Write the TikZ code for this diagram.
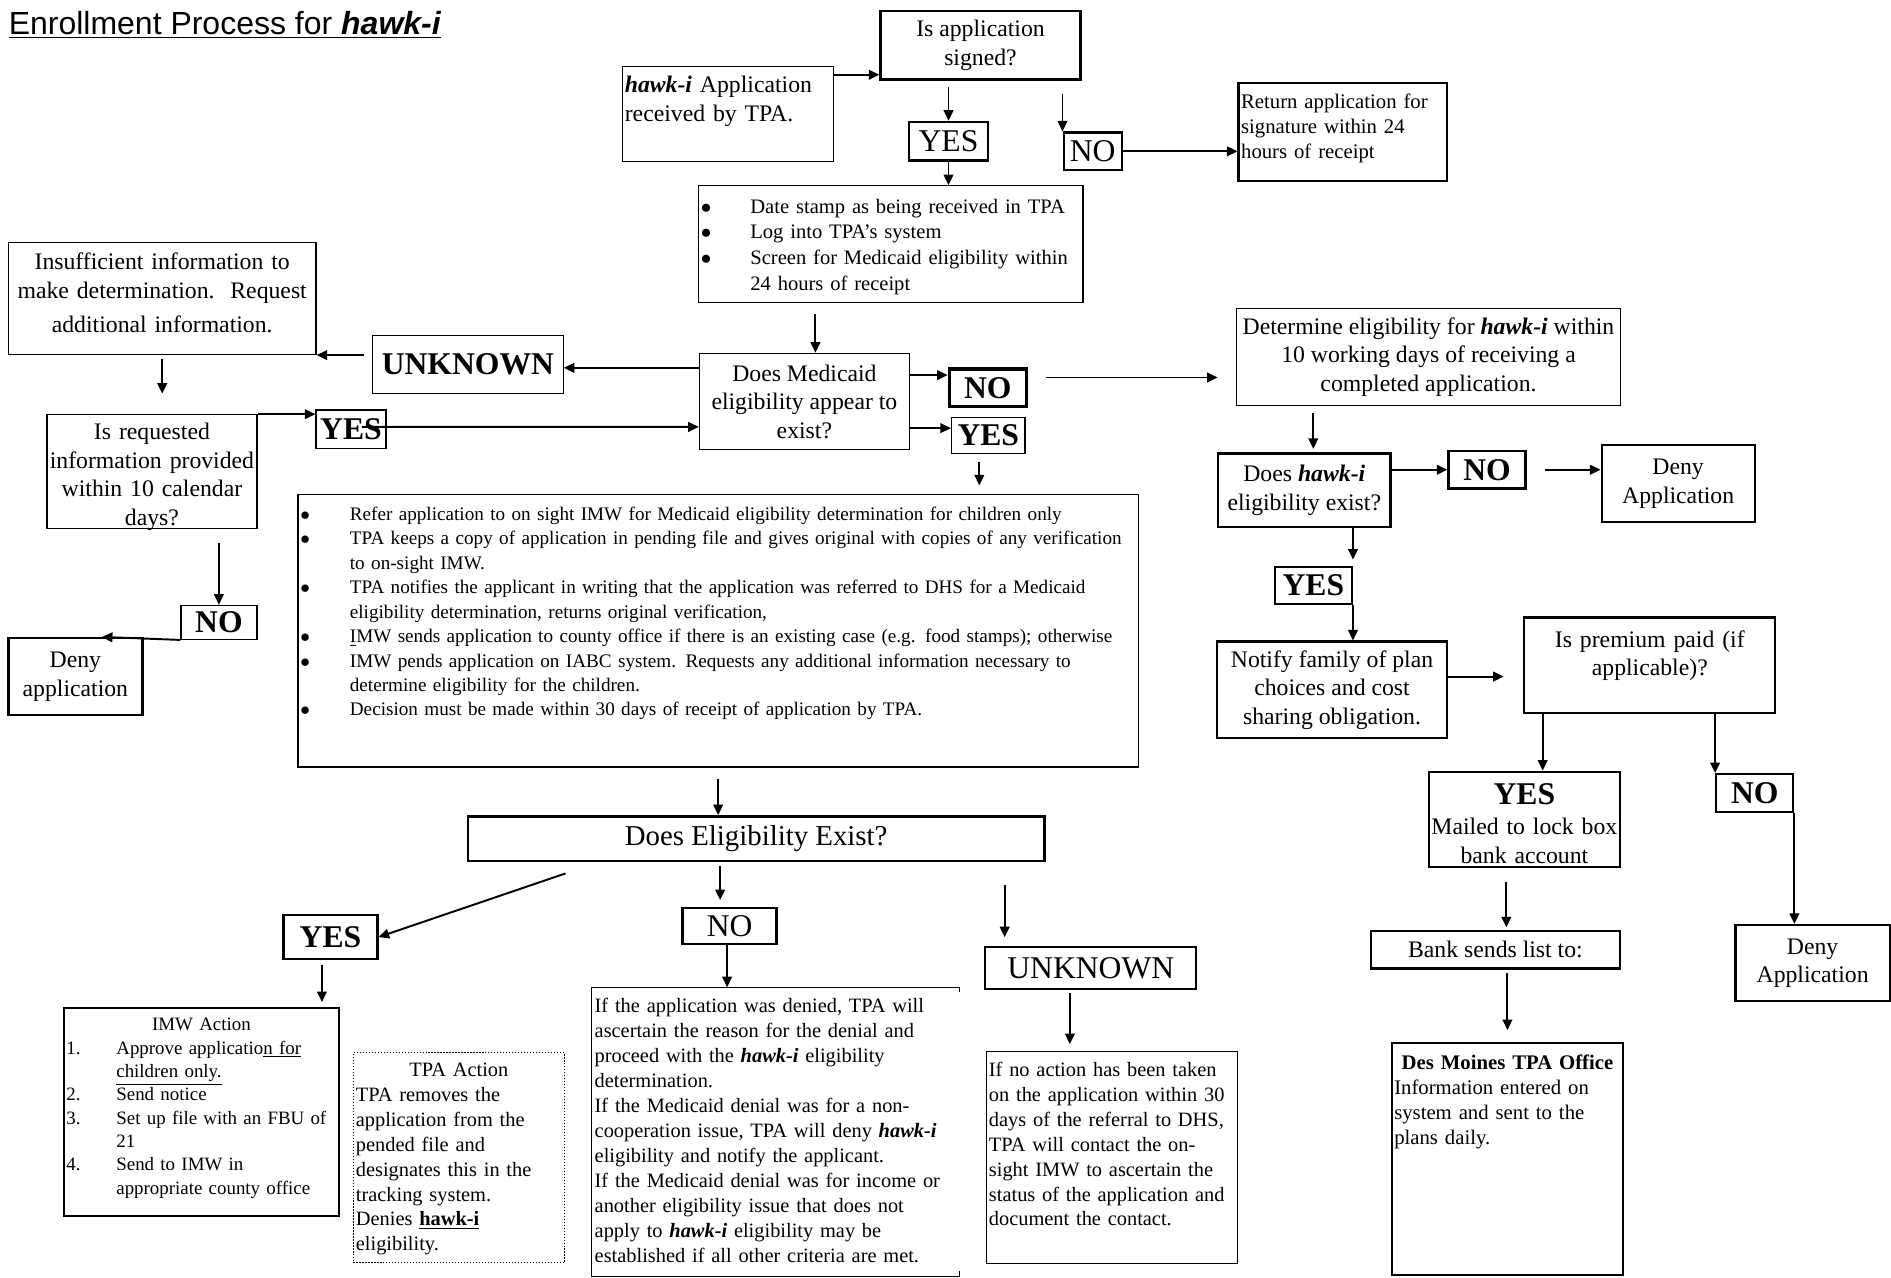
\documentclass[tikz,border=0pt]{standalone}
\usepackage{fontspec}
\setmainfont{Liberation Serif}
\newfontfamily\titlefont{Liberation Sans}
\usepackage{tikz}
\usetikzlibrary{arrows.meta}

\newcommand{\hawki}{\textbf{\textit{hawk-i}}}
\newcommand{\fmain}{\fontsize{13.5}{16.2}\selectfont}
\newcommand{\fsmall}{\fontsize{11.6}{14.2}\selectfont}
\newcommand{\flabel}{\fontsize{18}{21}\selectfont}
\newcommand{\bulletmark}{\makebox[0.99cm][l]{$\bullet$}}
\newcommand{\listind}{\hspace*{0.99cm}}
\newcommand{\stepno}[1]{\makebox[1.0cm][l]{#1}}

\begin{document}
\begin{tikzpicture}[
x=0.2412mm, y=-0.2412mm,
box/.style={draw, line width=0.7pt, inner xsep=0.08cm, inner ysep=0pt, align=center, font=\fmain},
heavy/.style={box, line width=1.3pt},
note/.style={align=left, inner xsep=0.05cm},
tight/.style={inner xsep=0.02cm},
answer/.style={heavy, font=\flabel},
arrow/.style={-{Triangle[length=6pt,width=5.5pt]}, line width=1.1pt} ]

\useasboundingbox (0,0) rectangle (1568,1059);

\node[anchor=base west, inner sep=0pt, font=\titlefont\fontsize{18.2}{21}\selectfont] (title) at (7,29) {\underline{Enrollment Process for \textbf{\textit{hawk-i}}}};

\node[heavy, minimum width=4.00cm, minimum height=1.37cm] (signed) at (813,37.5) {Is application\\signed?};

\node[box, note, text width=4.12cm, text height=0.53cm, text depth=1.37cm] (recv) at (603.5,94.5) {\hawki{} Application\\received by TPA.};

\node[answer, minimum width=1.57cm, minimum height=0.77cm] (yes1) at (786.5,117) {YES};

\node[answer, minimum width=1.16cm, minimum height=0.75cm] (no1) at (906,125.5) {NO};

\node[heavy, note, font=\fontsize{11.8}{14}\selectfont, text width=4.07cm, text height=0.51cm, text depth=1.44cm] (ret) at (1113.5,109.5) {Return application for\\signature within 24\\hours of receipt};

\node[box, note, font=\fontsize{11.7}{14.6}\selectfont, text width=7.59cm, text height=0.55cm, text depth=1.79cm] (screen) at (738.5,202.5) {\bulletmark Date stamp as being received in TPA\\\bulletmark Log into TPA's system\\\bulletmark Screen for Medicaid eligibility within\\\listind 24 hours of receipt};

\node[box, minimum width=4.20cm, minimum height=1.93cm] (medi) at (667,333) {Does Medicaid\\eligibility appear to\\exist?};

\node[box, font=\flabel\bfseries, minimum width=3.81cm, minimum height=1.16cm] (unk1) at (388,302) {UNKNOWN};

\node[box, tight, text width=6.11cm, text height=0.55cm, text depth=1.69cm] (insuf) at (134.5,247.5) {Insufficient information to\\make determination.\ \ Request\\[1.2mm]additional information.};

\node[box, tight, text width=4.16cm, text height=0.50cm, text depth=1.77cm] (req) at (126,391) {Is requested\\information provided\\within 10 calendar\\days?};

\node[box, font=\flabel\bfseries, minimum width=1.40cm, minimum height=0.77cm] (yes2) at (291,356) {YES};

\node[box, font=\flabel\bfseries, minimum width=1.52cm, minimum height=0.68cm] (no2) at (181.5,516) {NO};

\node[heavy, minimum width=2.68cm, minimum height=1.54cm] (deny1) at (62.5,561) {Deny\\application};

\node[answer, font=\flabel\bfseries, line width=1.8pt, minimum width=1.54cm, minimum height=0.75cm] (no3) at (819,321.5) {NO};

\node[box, font=\flabel\bfseries, minimum width=1.47cm, minimum height=0.72cm] (yes3) at (819.5,361) {YES};

\node[box, minimum width=7.69cm, minimum height=1.93cm] (det) at (1184.5,296) {Determine eligibility for \hawki{} within\\10 working days of receiving a\\completed application.};

\node[box, note, font=\fontsize{10.9}{13.9}\selectfont, text width=16.71cm, text height=0.52cm, text depth=4.93cm] (refer) at (595.5,523) {\bulletmark Refer application to on sight IMW for Medicaid eligibility determination for children only\\
\bulletmark TPA keeps a copy of application in pending file and gives original with copies of any verification\\
\listind to on-sight IMW.\\
\bulletmark TPA notifies the applicant in writing that the application was referred to DHS for a Medicaid\\
\listind eligibility determination, returns original verification,\\
\bulletmark \underline{I}MW sends application to county office if there is an existing case (e.g. food stamps); otherwise\\
\bulletmark IMW pends application on IABC system. Requests any additional information necessary to\\
\listind determine eligibility for the children.\\
\bulletmark Decision must be made within 30 days of receipt of application by TPA.};

\node[heavy, line width=1.6pt, font=\fontsize{16.4}{19}\selectfont, minimum width=11.53cm, minimum height=0.89cm] (elig) at (627,695.5) {Does Eligibility Exist?};

\node[answer, font=\flabel\bfseries, minimum width=1.88cm, minimum height=0.87cm] (yes4) at (274,777) {YES};

\node[answer, minimum width=1.88cm, minimum height=0.72cm] (no4) at (605,768) {NO};

\node[answer, minimum width=4.22cm, minimum height=0.84cm] (unk2) at (904.5,802.5) {UNKNOWN};

\node[heavy, note, font=\fontsize{10.75}{13.3}\selectfont, text width=5.40cm, text height=0.45cm, text depth=3.70cm] (imw) at (167,922) {{\centering IMW Action\par}\stepno{1.}Approve applicatio\underline{n for}\\\stepno{}\underline{children only.}\\\stepno{2.}Send notice\\\stepno{3.}Set up file with an FBU of\\\stepno{}21\\\stepno{4.}Send to IMW in\\\stepno{}appropriate county office};

\node[box, note, densely dotted, line width=0.6pt, font=\fsmall, text width=4.12cm, text height=0.47cm, text depth=3.73cm] (tpa) at (380.5,960) {{\centering TPA Action\par}TPA removes the\\application from the\\pended file and\\designates this in the\\tracking system.\\Denies \underline{\textbf{hawk-i}}\\eligibility.};

\node[box, note, draw=none, font=\fsmall, text width=7.23cm, text height=0.50cm, text depth=5.26cm] (notext) at (643,938.5) {If the application was denied, TPA will\\ascertain the reason for the denial and\\proceed with the \hawki{} eligibility\\determination.\\If the Medicaid denial was for a non-\\cooperation issue, TPA will deny \hawki\\eligibility and notify the applicant.\\If the Medicaid denial was for income or\\another eligibility issue that does not\\apply to \hawki{} eligibility may be\\established if all other criteria are met.};

\node[box, note, font=\fsmall, text width=4.92cm, text height=0.49cm, text depth=3.75cm] (unktext) at (922,960) {If no action has been taken\\on the application within 30\\days of the referral to DHS,\\TPA will contact the on-\\sight IMW to ascertain the\\status of the application and\\document the contact.};

\node[heavy, minimum width=3.45cm, minimum height=1.47cm] (hawk) at (1081.5,406.5) {Does \hawki\\eligibility exist?};

\node[answer, font=\flabel\bfseries, minimum width=1.54cm, minimum height=0.75cm] (no5) at (1233,389.5) {NO};

\node[heavy, minimum width=3.06cm, minimum height=1.54cm] (deny2) at (1391.5,401) {Deny\\Application};

\node[answer, font=\flabel\bfseries, minimum width=1.54cm, minimum height=0.75cm] (yes5) at (1089,485.5) {YES};

\node[heavy, minimum width=4.61cm, minimum height=1.93cm] (notify) at (1104.5,572) {Notify family of plan\\choices and cost\\sharing obligation.};

\node[heavy, tight, text width=4.98cm, text height=0.60cm, text depth=1.31cm] (prem) at (1368,551.5) {Is premium paid (if\\applicable)?};

\node[heavy, tight, text width=3.77cm, text height=0.66cm, text depth=1.25cm] (mail) at (1264,679.5) {{\flabel\bfseries YES}\\[0.3mm]Mailed to lock box\\bank account};

\node[answer, font=\flabel\bfseries, minimum width=1.54cm, minimum height=0.75cm] (no6) at (1455,657.5) {NO};

\node[heavy, minimum width=3.09cm, minimum height=1.52cm] (deny3) at (1503,798.5) {Deny\\Application};

\node[heavy, minimum width=4.97cm, minimum height=0.75cm] (bank) at (1240,787.5) {Bank sends list to:};

\node[heavy, note, font=\fontsize{11.8}{14.2}\selectfont, text width=4.53cm, text height=0.52cm, text depth=4.11cm] (desm) at (1250,961) {{\centering\textbf{Des Moines TPA Office}\par}Information entered on\\system and sent to the\\plans daily.};

\draw[line width=0.7pt] ([yshift=-1mm]notext.north east) -- (notext.north east) -- (notext.north west) -- (notext.south west) -- (notext.south east) -- ([yshift=1mm]notext.south east);

\draw[arrow] (recv.east |- 0,62) -- (signed.west |- 0,62);
\draw[arrow, shorten <=1.2mm] (yes1.north |- signed.south) -- (yes1.north);
\draw[arrow] (yes1.south) -- (yes1.south |- screen.north);
\draw[arrow, shorten <=2.6mm] (no1.north west |- signed.south) -- (no1.north west);
\draw[arrow] (no1.east) -- (ret.west |- no1.east);
\draw[arrow, shorten <=2.2mm] ([xshift=2.2mm]medi.north |- screen.south) -- ([xshift=2.2mm]medi.north);

\draw[arrow] (medi.west |- 0,305) -- (unk1.east |- 0,305);
\draw[arrow, shorten <=1.7mm] (unk1.west |- insuf.south east) -- (insuf.south east);
\draw[arrow, shorten <=0.7mm, shorten >=4.1mm] (insuf.south) -- (insuf.south |- req.north);
\draw[arrow] (req.north east) -- (yes2.west |- req.north east);
\draw[arrow] ([xshift=2.2mm,yshift=0.5mm]yes2.center) -- (medi.west |- 0,354);
\draw[arrow, shorten <=2.9mm] (no2.north |- req.south) -- (no2.north);
\draw[arrow] (no2.south west) -- ([xshift=5.3mm]deny1.north);

\draw[arrow] (medi.east |- 0,311) -- (no3.west |- 0,311);
\draw[arrow] (medi.east |- 0,355) -- (yes3.west |- 0,355);
\draw[arrow, shorten <=3.6mm, shorten >=3.6mm] (no3.east |- 0,313) -- (det.west |- 0,313);
\draw[arrow, shorten <=1.7mm, shorten >=1.7mm] ([xshift=-1.8mm]yes3.south) -- ([xshift=-1.8mm]yes3.south |- refer.north);
\draw[arrow, shorten <=2.2mm] (refer.south) -- (refer.south |- elig.north);

\draw[arrow] ([xshift=1.98cm,yshift=-0.22cm]elig.south west) -- (yes4.east);
\draw[arrow, shorten <=0.7mm, shorten >=1.4mm] ([xshift=-1.9mm]no4.north |- elig.south) -- ([xshift=-1.9mm]no4.north);
\draw[arrow, shorten <=4.6mm, shorten >=1.7mm] ([xshift=0.41cm]unk2.north west |- elig.south) -- ([xshift=0.41cm]unk2.north west);
\draw[arrow] ([xshift=-0.5mm]no4.south) -- ([xshift=-0.5mm]no4.south |- notext.north);
\draw[arrow, shorten <=0.7mm, shorten >=1.4mm] ([xshift=-0.42cm]unk2.south) -- ([xshift=-0.42cm]unk2.south |- unktext.north);
\draw[arrow, shorten <=1mm, shorten >=1mm] ([xshift=-1.7mm]yes4.south) -- ([xshift=-1.7mm]yes4.south |- imw.north);

\draw[arrow, shorten <=1.5mm, shorten >=0.7mm] ([xshift=1.8mm]hawk.north |- det.south) -- ([xshift=1.8mm]hawk.north);
\draw[arrow] (hawk.east |- no5.west) -- (no5.west);
\draw[arrow, shorten <=3.6mm] (no5.east) -- (deny2.west |- no5.east);
\draw[arrow, shorten >=1.2mm] (yes5.north east |- hawk.south) -- (yes5.north east);
\draw[arrow] (yes5.south east) -- (yes5.south east |- notify.north);
\draw[arrow, shorten >=3.9mm] (notify.east |- 0,561) -- (prem.west |- 0,561);
\draw[arrow] ([xshift=0.39cm]prem.south west) -- ([xshift=0.39cm]prem.south west |- mail.north);
\draw[arrow] (no6.north west |- prem.south) -- (no6.north west);
\draw[arrow] (no6.south east) -- (no6.south east |- deny3.north);
\draw[arrow, shorten <=2.7mm, shorten >=0.5mm] ([xshift=-3.6mm]mail.south) -- ([xshift=-3.6mm]mail.south |- bank.north);
\draw[arrow, shorten <=0.7mm, shorten >=2.4mm] ([xshift=2.4mm]bank.south) -- ([xshift=2.4mm]bank.south |- desm.north);

\end{tikzpicture}
\end{document}
